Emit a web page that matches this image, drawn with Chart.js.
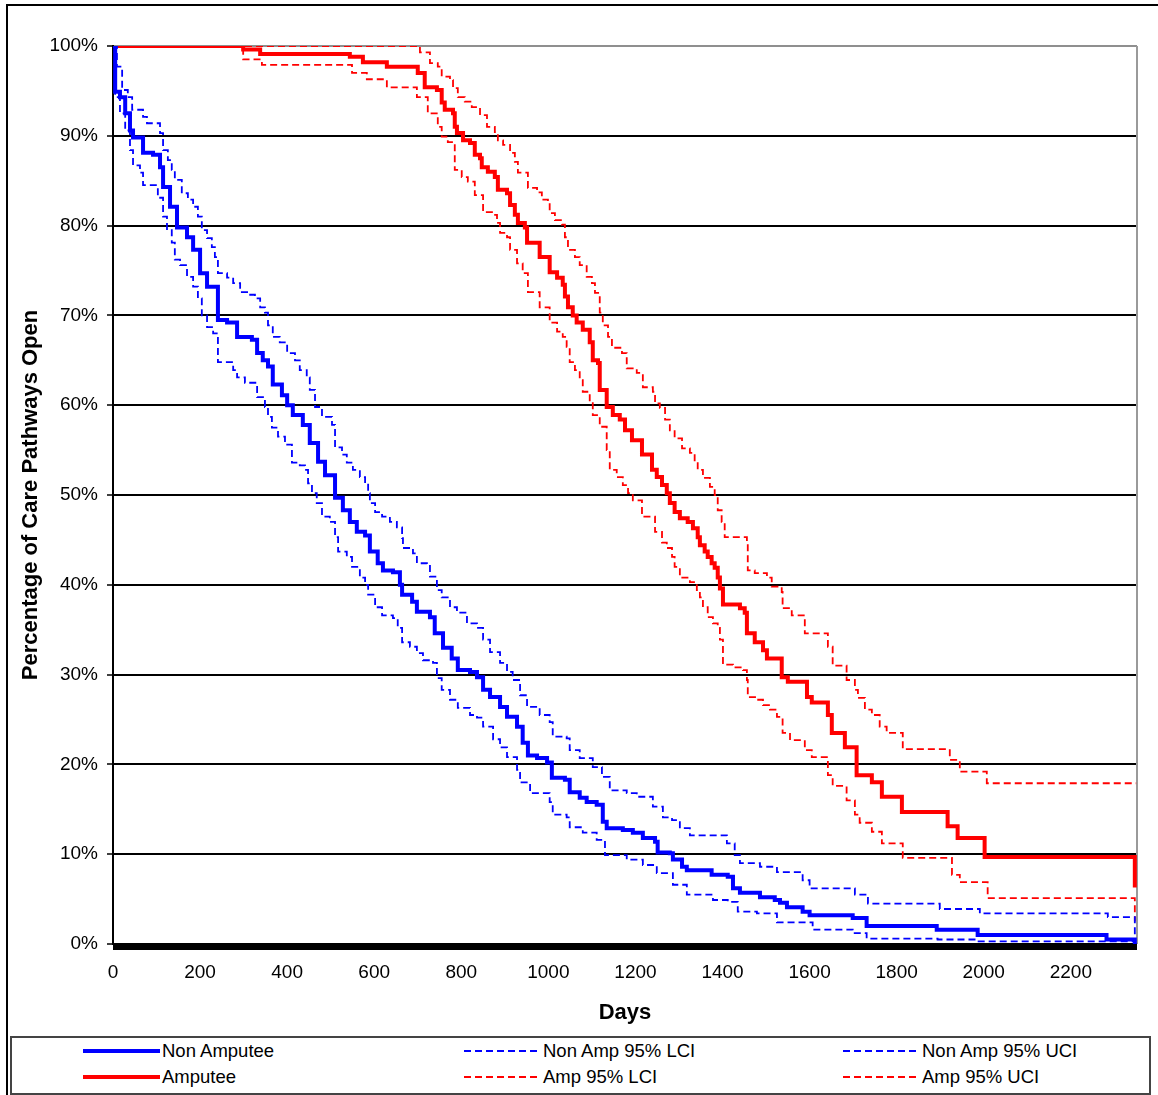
<!DOCTYPE html>
<html>
<head>
<meta charset="utf-8">
<title>Care Pathways Open: Non Amputee vs Amputee</title>
<script src="https://cdn.jsdelivr.net/npm/chart.js"></script>
<style>
  html, body { margin: 0; padding: 0; background: #fff; overflow: hidden; }
  #wrap { position: relative; width: 1158px; height: 1095px; overflow: hidden; }
  #frame { position: absolute; left: 6px; top: 4px; width: 1300px; height: 1300px;
           border: 2px solid #000; box-sizing: border-box; }
  #chart { position: absolute; left: 0; top: 0; }
  #legend { position: absolute; left: 10px; top: 1036px; width: 1141px; height: 59px;
            border: 2px solid #444; box-sizing: border-box; background: #fff;
            font: 18.5px "Liberation Sans", Arial, sans-serif; color: #000; }
  #legend .item { position: absolute; height: 24px; display: flex; align-items: center; white-space: nowrap; }
  #legend svg { display: block; margin-right: 2px; }
</style>
</head>
<body>
<div id="wrap">
  <div id="frame"></div>
  <canvas id="chart" width="1158" height="1095"></canvas>
  <div id="legend"></div>
</div>
<script>
// Kaplan-Meier style step data: day of each step and the percentage still open after it.

// Non Amputee
const naDays = [0, 5, 16, 28, 39, 46, 69, 92, 108, 115, 131, 147, 170, 184, 200, 216, 241, 262, 285, 319,
  331, 344, 356, 367, 388, 400, 413, 436, 452, 471, 487, 510, 528, 544, 560, 579, 590, 608, 620, 643,
  659, 664, 687, 698, 728, 739, 758, 778, 792, 820, 836, 850, 866, 889, 905, 928, 941, 953, 974, 997,
  1008, 1038, 1049, 1072, 1088, 1111, 1125, 1134, 1171, 1194, 1217, 1245, 1251, 1279, 1286, 1307, 1318,
  1375, 1412, 1424, 1440, 1486, 1520, 1532, 1548, 1584, 1600, 1699, 1731, 1892, 1986, 2282, 2347];
const naPct = [100, 94.9, 94.3, 92.5, 90.6, 89.8, 88.1, 87.9, 86.5, 84.3, 82.1, 79.8, 78.7, 77.3, 74.7, 73.2, 69.5, 69.2, 67.6, 67.3,
  65.8, 65.0, 64.3, 62.3, 61.1, 60.0, 58.9, 57.8, 55.8, 53.7, 52.2, 49.7, 48.3, 47.0, 45.9, 45.5, 43.7, 42.4, 41.6, 41.4,
  40.0, 38.9, 38.1, 37.0, 36.4, 34.6, 33.0, 31.8, 30.5, 30.3, 29.7, 28.3, 27.5, 26.4, 25.3, 24.2, 22.4, 21.0, 20.7, 20.2,
  18.5, 18.3, 16.9, 16.3, 15.8, 15.5, 13.6, 12.9, 12.7, 12.4, 11.8, 11.4, 10.2, 10.1, 9.4, 8.6, 8.2,
  7.7, 7.5, 6.2, 5.7, 5.2, 4.9, 4.6, 4.1, 3.6, 3.2, 2.9, 2.0, 1.6, 1.0, 0.5, 0];

// Non Amputee, lower 95% confidence limit
const nlDays = [0, 5, 16, 28, 39, 46, 62, 69, 103, 115, 124, 135, 142, 154, 170, 184, 195, 204, 216, 230,
  241, 276, 285, 303, 331, 349, 356, 365, 379, 395, 411, 429, 441, 448, 457, 468, 480, 498, 510, 517,
  537, 549, 567, 579, 586, 602, 618, 643, 654, 664, 682, 698, 712, 735, 744, 755, 774, 792, 820, 836,
  850, 873, 889, 905, 928, 935, 958, 1003, 1010, 1042, 1049, 1079, 1111, 1130, 1180, 1217, 1249, 1286,
  1318, 1378, 1412, 1435, 1479, 1525, 1607, 1699, 1731, 1894, 1984, 2347];
const nlPct = [100, 94.3, 92.5, 90.6, 88.4, 86.7, 85.9, 84.5, 83.1, 81.0, 79.5, 78.1, 76.2, 75.6, 74.3, 73.2, 71.9, 70.0, 68.7, 68.0,
  64.8, 63.9, 63.1, 62.5, 60.9, 59.8, 58.7, 57.5, 56.5, 55.6, 53.6, 53.3, 52.8, 51.3, 50.2, 49.1, 47.6, 47.0, 45.3, 43.7,
  43.1, 42.0, 40.8, 40.0, 38.9, 37.5, 36.6, 36.3, 35.2, 33.6, 33.1, 32.4, 31.6, 31.3, 29.6, 28.3, 27.2, 26.3, 25.5, 25.2,
  24.2, 22.8, 21.9, 20.8, 19.4, 18.0, 16.8, 15.8, 14.4, 14.1, 13.0, 12.4, 11.6, 9.9, 9.4, 8.8, 7.9, 6.6,
  5.5, 4.9, 4.7, 3.6, 3.4, 2.4, 1.6, 1.2, 0.6, 0.5, 0.3, 0];

// Non Amputee, upper 95% confidence limit
const nuDays = [0, 9, 21, 34, 44, 69, 78, 108, 115, 126, 135, 142, 158, 172, 184, 195, 204, 216, 227, 234,
  241, 262, 276, 292, 308, 326, 338, 349, 356, 367, 383, 400, 418, 429, 445, 452, 464, 480, 503, 510,
  526, 537, 551, 567, 579, 586, 590, 602, 618, 636, 652, 664, 666, 689, 698, 721, 728, 744, 755, 774,
  790, 813, 836, 850, 866, 889, 905, 918, 935, 951, 980, 1003, 1010, 1042, 1049, 1072, 1102, 1123, 1141,
  1180, 1203, 1240, 1263, 1284, 1302, 1325, 1410, 1428, 1440, 1486, 1525, 1584, 1600, 1704, 1734, 1899,
  1991, 2285, 2347];
const nuPct = [100, 97.7, 95.1, 94.3, 92.9, 92.1, 91.4, 90.3, 88.4, 87.3, 86.2, 85.1, 83.6, 82.9, 82.1, 81.0, 79.5, 78.6, 77.6, 76.5,
  74.7, 74.2, 73.6, 72.6, 72.3, 71.9, 70.9, 70.3, 68.9, 67.6, 67.0, 65.8, 65.0, 63.9, 63.1, 61.7, 59.8, 58.7, 57.8, 55.3,
  54.5, 53.6, 52.8, 52.0, 51.3, 50.2, 49.1, 48.1, 47.6, 47.0, 46.4, 45.2, 44.1, 43.5, 42.4, 42.2, 40.9, 39.4, 38.6, 37.5,
  36.9, 35.7, 35.2, 33.9, 32.5, 31.3, 30.3, 29.4, 27.7, 26.4, 25.5, 24.7, 23.1, 22.9, 21.6, 20.7, 19.7, 18.6, 17.1,
  16.8, 16.4, 15.3, 14.1, 13.8, 12.9, 12.1, 11.2, 9.9, 9.0, 8.6, 8.0, 7.1, 6.2, 5.5, 4.5, 3.9,
  3.4, 3.0, 0.4];

// Amputee
const amDays = [0, 299, 338, 544, 574, 629, 700, 716, 744, 755, 762, 781, 785, 790, 804, 820, 831, 843, 847, 861,
  877, 884, 905, 912, 923, 930, 946, 951, 980, 1003, 1020, 1033, 1038, 1045, 1056, 1065, 1079, 1095, 1102, 1114,
  1118, 1134, 1148, 1164, 1176, 1192, 1215, 1238, 1249, 1261, 1272, 1279, 1290, 1302, 1320, 1332, 1343, 1348, 1359, 1366,
  1375, 1382, 1389, 1394, 1401, 1440, 1451, 1456, 1474, 1493, 1502, 1536, 1550, 1594, 1605, 1642, 1651, 1681, 1708, 1743,
  1766, 1812, 1917, 1940, 2002, 2347];
const amPct = [100, 99.6, 99.1, 98.8, 98.2, 97.7, 97.0, 95.4, 95.1, 93.7, 92.9, 92.5, 91.0, 90.3, 89.5, 89.2, 87.9, 87.5, 86.5, 86.0,
  85.4, 84.0, 83.6, 82.3, 81.2, 80.3, 79.8, 78.1, 76.5, 74.8, 74.2, 73.4, 72.1, 70.9, 70.0, 69.2, 68.4, 67.0, 65.0, 64.7,
  61.7, 59.8, 58.9, 58.4, 57.2, 56.1, 54.5, 52.8, 52.0, 51.1, 50.2, 49.1, 48.1, 47.4, 47.0, 46.3, 45.3, 44.4, 43.7, 43.1,
  42.4, 41.9, 40.8, 39.6, 37.8, 37.4, 36.9, 34.6, 33.6, 32.7, 31.8, 29.7, 29.2, 27.5, 26.9, 25.5, 23.5, 21.9, 18.8, 18.0,
  16.4, 14.7, 13.1, 11.8, 9.7, 6.3];

// Amputee, lower 95% confidence limit
const alDays = [0, 299, 342, 549, 583, 629, 698, 723, 746, 755, 769, 785, 801, 815, 831, 850, 873, 882, 889, 905,
  912, 928, 941, 953, 980, 1003, 1020, 1033, 1042, 1049, 1061, 1072, 1079, 1095, 1102, 1118, 1134, 1141, 1157, 1171,
  1183, 1194, 1215, 1245, 1261, 1272, 1284, 1290, 1302, 1325, 1341, 1348, 1355, 1366, 1378, 1389, 1394, 1401, 1424, 1447,
  1456, 1458, 1479, 1493, 1509, 1525, 1538, 1555, 1589, 1605, 1642, 1653, 1685, 1704, 1715, 1743, 1766, 1814, 1927, 1945,
  2009, 2347];
const alPct = [100, 98.5, 97.9, 97.0, 96.3, 95.4, 94.3, 92.5, 91.0, 89.9, 89.3, 86.2, 85.4, 84.9, 83.4, 81.5, 81.2, 80.3, 79.2, 78.7,
  77.3, 75.8, 74.7, 72.6, 70.9, 69.2, 68.2, 67.6, 66.5, 64.8, 63.9, 62.8, 61.5, 60.4, 58.9, 57.6, 55.0, 52.8, 52.0, 51.1,
  50.2, 49.4, 47.6, 45.9, 44.7, 44.1, 43.1, 42.0, 40.8, 40.3, 39.4, 38.6, 37.5, 36.4, 35.7, 35.2, 33.9, 31.1, 30.8, 30.5,
  29.4, 27.5, 27.2, 26.6, 26.1, 25.3, 23.5, 22.7, 21.6, 20.8, 18.8, 17.6, 16.0, 14.4, 13.5, 12.5, 11.2, 9.6, 7.7, 6.9,
  5.1, 2.5];

// Amputee, upper 95% confidence limit
const auDays = [0, 705, 728, 746, 755, 774, 781, 792, 808, 824, 843, 859, 877, 884, 896, 912, 923, 930, 953, 974,
  985, 999, 1003, 1015, 1031, 1038, 1045, 1061, 1072, 1088, 1100, 1107, 1118, 1125, 1137, 1146, 1169, 1180, 1203, 1217,
  1240, 1245, 1256, 1268, 1279, 1290, 1307, 1325, 1336, 1343, 1355, 1371, 1382, 1389, 1398, 1405, 1456, 1458, 1474, 1502,
  1513, 1536, 1538, 1559, 1589, 1642, 1653, 1685, 1704, 1711, 1727, 1743, 1761, 1777, 1814, 1922, 1945, 2007, 2350];
const auPct = [100, 99.3, 98.1, 97.7, 96.6, 96.2, 95.3, 94.3, 93.8, 93.2, 92.3, 91.0, 90.4, 89.5, 89.0, 88.1, 87.1, 85.9, 84.2, 83.7,
  82.9, 82.5, 81.4, 80.6, 80.1, 78.7, 77.3, 76.5, 75.6, 74.3, 73.6, 72.5, 70.3, 68.9, 67.6, 66.4, 65.8, 64.1, 63.6, 62.0,
  61.5, 60.2, 59.7, 58.4, 57.2, 56.3, 55.2, 54.7, 53.7, 52.8, 51.9, 50.9, 50.0, 48.3, 47.0, 45.3, 44.7, 41.6, 41.3, 40.8,
  39.8, 39.2, 37.4, 36.6, 34.6, 33.1, 31.0, 29.4, 28.3, 27.4, 26.1, 25.5, 24.2, 23.5, 21.7, 20.5, 19.2, 17.9, 17.9];

// Axis settings
const dayMax = 2352;
const dayTicks = [0, 200, 400, 600, 800, 1000, 1200, 1400, 1600, 1800, 2000, 2200];
const pctStep = 10;

const BLUE = '#0000ff';
const RED = '#ff0000';
const DASH = [7, 4];
const FONT = '"Liberation Sans", Arial, sans-serif';

const toPoints = (days, pct) => days.map((d, i) => ({ x: d, y: pct[i] }));

const datasets = [
  { label: 'Non Amputee',     data: toPoints(naDays, naPct), borderColor: BLUE, borderWidth: 4 },
  { label: 'Non Amp 95% LCI', data: toPoints(nlDays, nlPct), borderColor: BLUE, borderWidth: 1.8, borderDash: DASH },
  { label: 'Non Amp 95% UCI', data: toPoints(nuDays, nuPct), borderColor: BLUE, borderWidth: 1.8, borderDash: DASH },
  { label: 'Amputee',         data: toPoints(amDays, amPct), borderColor: RED,  borderWidth: 4 },
  { label: 'Amp 95% LCI',     data: toPoints(alDays, alPct), borderColor: RED,  borderWidth: 1.8, borderDash: DASH },
  { label: 'Amp 95% UCI',     data: toPoints(auDays, auPct), borderColor: RED,  borderWidth: 1.8, borderDash: DASH }
].map(ds => Object.assign({
  stepped: 'before', pointRadius: 0, pointHoverRadius: 0, fill: false,
  borderJoinStyle: 'miter', borderCapStyle: 'butt'
}, ds));

// Right-hand grey edge of the plot and the heavy baseline under 0%
const plotFrame = {
  id: 'plotFrame',
  beforeDatasetsDraw(chart) {
    const { ctx, chartArea: a, scales } = chart;
    const y0 = scales.y.getPixelForValue(0);
    ctx.save();
    ctx.strokeStyle = '#9a9a9a';
    ctx.lineWidth = 2;
    ctx.beginPath();
    ctx.moveTo(a.right, a.top);
    ctx.lineTo(a.right, y0);
    ctx.stroke();
    ctx.fillStyle = '#000';
    ctx.fillRect(a.left, y0 - 1, a.right - a.left, 7);
    ctx.restore();
  }
};

// Legend laid out as a fixed three-column grid, built from the chart's datasets
const htmlLegend = {
  id: 'htmlLegend',
  afterInit(chart) {
    const box = document.getElementById('legend');
    box.innerHTML = '';
    const colX = [71, 452, 831];
    const rowY = [1, 27];
    chart.data.datasets.forEach((ds, i) => {
      const item = document.createElement('div');
      item.className = 'item';
      item.style.left = colX[i % 3] + 'px';
      item.style.top = rowY[Math.floor(i / 3)] + 'px';
      const ns = 'http://www.w3.org/2000/svg';
      const svg = document.createElementNS(ns, 'svg');
      svg.setAttribute('width', '77');
      svg.setAttribute('height', '8');
      const line = document.createElementNS(ns, 'line');
      line.setAttribute('x1', '0');
      line.setAttribute('y1', '4');
      line.setAttribute('x2', '77');
      line.setAttribute('y2', '4');
      line.setAttribute('stroke', ds.borderColor);
      line.setAttribute('stroke-width', ds.borderWidth);
      if (ds.borderDash) line.setAttribute('stroke-dasharray', ds.borderDash.join(' '));
      svg.appendChild(line);
      const label = document.createElement('span');
      label.textContent = ds.label;
      item.appendChild(svg);
      item.appendChild(label);
      box.appendChild(item);
    });
  }
};

Chart.defaults.font.family = FONT;
Chart.defaults.color = '#000';

new Chart(document.getElementById('chart'), {
  type: 'line',
  data: { datasets },
  options: {
    responsive: false,
    animation: false,
    devicePixelRatio: 1,
    layout: { padding: { left: 0, top: 46, right: 21, bottom: 65 } },
    plugins: {
      legend: { display: false },
      tooltip: { enabled: false },
      title: { display: false }
    },
    scales: {
      x: {
        type: 'linear',
        min: 0,
        max: dayMax,
        afterBuildTicks: s => { s.ticks = dayTicks.map(v => ({ value: v })); },
        ticks: { padding: 17, maxRotation: 0, autoSkip: false,
                 font: { size: 19 }, color: '#000',
                 callback: v => String(v) },
        grid: { display: false, drawTicks: false },
        border: { display: false },
        title: { display: true, text: 'Days', color: '#000',
                 font: { size: 22, weight: 'bold' }, padding: { top: 0, bottom: 4 } },
        afterFit: s => { s.height = 86; s.paddingLeft = 0; s.paddingRight = 0; }
      },
      y: {
        min: 0,
        max: 100,
        ticks: { stepSize: pctStep, padding: 9, font: { size: 19 }, color: '#000',
                 callback: v => v + '%' },
        grid: {
          color: c => (c.tick && c.tick.value === 100) ? '#8f8f8f' : '#000',
          lineWidth: 2,
          tickLength: 6,
          tickColor: '#000',
          tickWidth: 1.5
        },
        border: { display: true, color: '#000', width: 2 },
        title: { display: true, text: 'Percentage of Care Pathways Open', color: '#000',
                 font: { size: 22, weight: 'bold' }, padding: { top: 18, bottom: 0 } },
        afterFit: s => { s.width = 113; s.paddingTop = 0; s.paddingBottom = 0; }
      }
    }
  },
  plugins: [plotFrame, htmlLegend]
});
</script>
</body>
</html>
